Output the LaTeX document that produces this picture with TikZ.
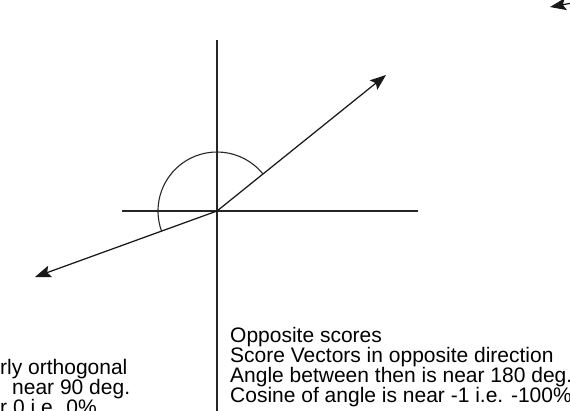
\documentclass[tikz,border=0pt]{standalone}
\usepackage{fontspec}
\setmainfont{Liberation Sans}
\usepackage{tikz}
\usetikzlibrary{
    arrows.meta,
    positioning,
    calc
}
\newcommand{\captfont}[1]{\fontsize{21pt}{#1}\selectfont\lineskiplimit=-20pt\relax}
\tikzset{
  axis/.style  = {line width=1.2pt, black!85},
  vec/.style   = {-{Stealth[length=16pt, width=12pt, inset=3pt]},
                  line width=1.25pt, black!90},
  anglearc/.style = {line width=1.1pt, black!85},
  note/.style  = {align=left, inner sep=0pt, anchor=base west}
}

\begin{document}
\begin{tikzpicture}[x=1pt, y=1pt]

\useasboundingbox (0,0) rectangle (570,410);
\clip (0,0) rectangle (570,410);

%% --- origin and axis ends ---
\coordinate (O)      at (217,199);
\coordinate (yTop)   at (217,370);
\coordinate (yBot)   at (217,-10);
\coordinate (xLeft)  at (122,199);
\coordinate (xRight) at (418,199);

%% --- score vectors ---
\coordinate (vA) at (386,335);
\coordinate (vB) at (35,133);

%% --- axes ---
\draw[axis] (yTop) -- (yBot);
\draw[axis] (xLeft) -- (xRight);

%% --- vectors ---
\draw[vec] (O) -- (vA);
\draw[vec] (O) -- (vB);

%% --- angle between them ---
\draw[anglearc] (O) ++(39:59) arc[start angle=39, end angle=200, radius=59];

%% --- captions (cut by the frame; base = last line) ---
\node[note, font=\captfont{20pt}] (leftNote) at (0,-4) {%
  rly orthogonal\\
  \hspace*{12pt}near 90 deg.\\
  r 0 i.e. 0\%};

\node[note, font=\captfont{20pt}] (rightNote) at (230,8) {%
  Opposite scores\\
  Score Vectors in opposite direction\\
  Angle between then is near 180 deg.\\
  Cosine of angle is near -1 i.e. -100\%};

%% --- arrow fragment at top right edge ---
\coordinate (fragStart) at (600,412);
\coordinate (fragTip)   at (550,403);
\draw[vec] (fragStart) -- (fragTip);

\end{tikzpicture}
\end{document}
